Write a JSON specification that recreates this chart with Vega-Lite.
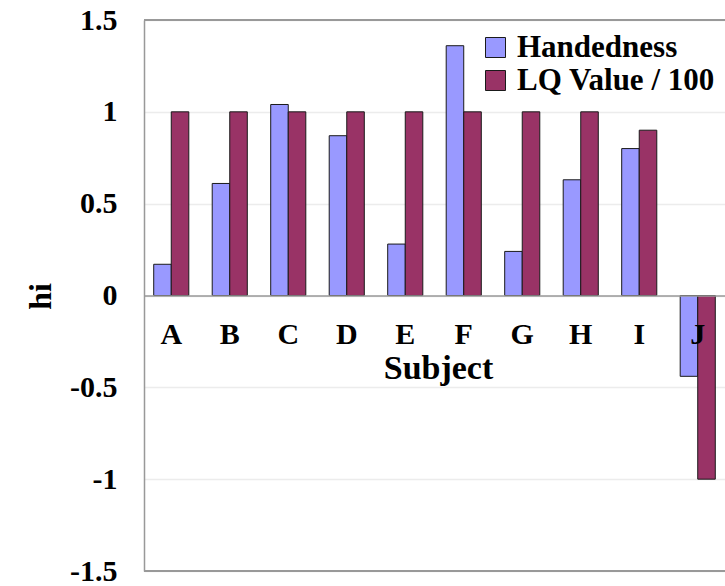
{
  "$schema": "https://vega.github.io/schema/vega-lite/v6.json",
  "autosize": {"type": "none"},
  "padding": {"left": 144, "top": 20, "right": 0, "bottom": 14},
  "width": 581,
  "height": 551,
  "background": "white",
  "config": {
    "view": {"stroke": null},
    "font": "Liberation Serif"
  },
  "data": {
    "values": [
      {"subject": "A", "measure": "Handedness", "value": 0.17},
      {"subject": "A", "measure": "LQ Value / 100", "value": 1.0},
      {"subject": "B", "measure": "Handedness", "value": 0.61},
      {"subject": "B", "measure": "LQ Value / 100", "value": 1.0},
      {"subject": "C", "measure": "Handedness", "value": 1.04},
      {"subject": "C", "measure": "LQ Value / 100", "value": 1.0},
      {"subject": "D", "measure": "Handedness", "value": 0.87},
      {"subject": "D", "measure": "LQ Value / 100", "value": 1.0},
      {"subject": "E", "measure": "Handedness", "value": 0.28},
      {"subject": "E", "measure": "LQ Value / 100", "value": 1.0},
      {"subject": "F", "measure": "Handedness", "value": 1.36},
      {"subject": "F", "measure": "LQ Value / 100", "value": 1.0},
      {"subject": "G", "measure": "Handedness", "value": 0.24},
      {"subject": "G", "measure": "LQ Value / 100", "value": 1.0},
      {"subject": "H", "measure": "Handedness", "value": 0.63},
      {"subject": "H", "measure": "LQ Value / 100", "value": 1.0},
      {"subject": "I", "measure": "Handedness", "value": 0.8},
      {"subject": "I", "measure": "LQ Value / 100", "value": 0.9},
      {"subject": "J", "measure": "Handedness", "value": -0.44},
      {"subject": "J", "measure": "LQ Value / 100", "value": -1.0}
    ]
  },
  "layer": [
    {
      "mark": {"type": "bar", "stroke": "#1a1a1a", "strokeWidth": 1},
      "encoding": {
        "x": {
          "field": "subject",
          "type": "nominal",
          "scale": {"paddingInner": 0.4, "paddingOuter": 0.166},
          "axis": {
            "orient": "bottom",
            "offset": -275.5,
            "zindex": 1,
            "labelAngle": 0,
            "labelFont": "Liberation Serif",
            "labelFontWeight": "bold",
            "labelFontSize": 30,
            "labelColor": "black",
            "labelBaseline": "top",
            "labelPadding": 24,
            "ticks": false,
            "domainColor": "#999999",
            "domainWidth": 1.5,
            "title": "Subject",
            "titleFont": "Liberation Serif",
            "titleFontWeight": "bold",
            "titleFontSize": 34,
            "titleColor": "black",
            "titleX": 294,
            "titleY": 83,
            "titleBaseline": "alphabetic",
            "titleAlign": "center"
          }
        },
        "xOffset": {
          "field": "measure",
          "type": "nominal",
          "sort": ["Handedness", "LQ Value / 100"],
          "scale": {"paddingInner": 0, "paddingOuter": 0}
        },
        "y": {
          "field": "value",
          "type": "quantitative",
          "scale": {"domain": [-1.5, 1.5], "nice": false, "zero": false},
          "axis": {
            "values": [-1.5, -1, -0.5, 0, 0.5, 1, 1.5],
            "labelExpr": "toString(datum.value)",
            "labelFont": "Liberation Serif",
            "labelFontWeight": "bold",
            "labelFontSize": 30,
            "labelColor": "black",
            "labelPadding": 27,
            "ticks": false,
            "domainColor": "#999999",
            "domainWidth": 1.5,
            "grid": true,
            "gridColor": "#ececec",
            "gridWidth": 1.5,
            "title": "hi",
            "titleFont": "Liberation Serif",
            "titleFontWeight": "bold",
            "titleFontSize": 32,
            "titleColor": "black",
            "titleX": -104,
            "titleY": 276,
            "titleAngle": -90,
            "titleAlign": "center",
            "titleBaseline": "middle"
          }
        },
        "color": {
          "field": "measure",
          "type": "nominal",
          "scale": {"domain": ["Handedness", "LQ Value / 100"], "range": ["#9999FF", "#993366"]},
          "legend": {
            "title": null,
            "orient": "none",
            "legendX": 336,
            "legendY": 12,
            "padding": 0,
            "symbolType": "square",
            "symbolSize": 400,
            "symbolStrokeColor": "#1a1a1a",
            "symbolStrokeWidth": 1,
            "labelFont": "Liberation Serif",
            "labelFontWeight": "bold",
            "labelFontSize": 31,
            "labelColor": "black",
            "labelOffset": 6,
            "labelLimit": 400,
            "rowPadding": 1
          }
        }
      }
    },
    {
      "mark": {"type": "rule", "color": "#999999", "strokeWidth": 2},
      "encoding": {
        "y": {"datum": 1.5, "type": "quantitative"}
      }
    },
    {
      "mark": {"type": "rule", "color": "#999999", "strokeWidth": 2},
      "encoding": {
        "y": {"datum": -1.5, "type": "quantitative"}
      }
    }
  ]
}
